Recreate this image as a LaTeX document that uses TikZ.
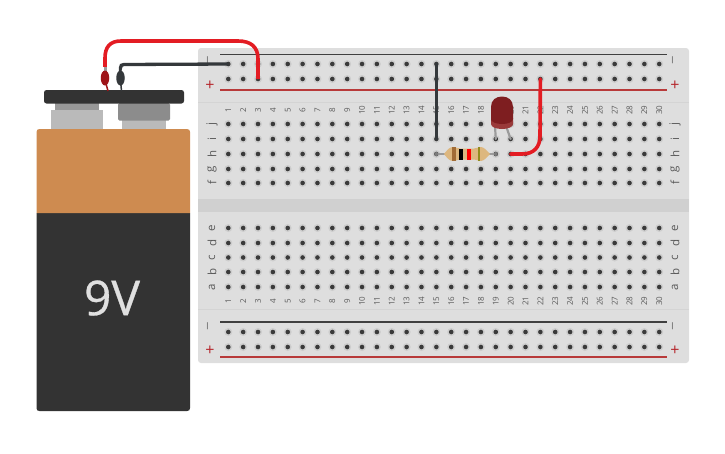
\documentclass[tikz,border=0pt]{standalone}
\usepackage{fontspec}
\setmainfont{Open Sans}
\usetikzlibrary{shapes.geometric}
\definecolor{board}{HTML}{DEDEDE}
\definecolor{groove}{HTML}{D0D0D0}
\definecolor{sepline}{HTML}{D4D4D4}
\definecolor{halo}{HTML}{CDCDCD}
\definecolor{hole}{HTML}{3A3A3A}
\definecolor{wirered}{HTML}{E31C23}
\definecolor{wireblack}{HTML}{34383B}
\definecolor{railred}{HTML}{B83A3A}
\definecolor{plusred}{HTML}{B5252B}
\definecolor{batdark}{HTML}{333333}
\definecolor{batorange}{HTML}{CE8B50}
\definecolor{ledred}{HTML}{7E1E20}
\definecolor{ledrim}{HTML}{9A3A3A}
\definecolor{lead}{HTML}{9B9B9B}
\definecolor{rbody}{HTML}{DDB77F}
\tikzset{
  haloc/.style={fill=halo,draw=none},
  holec/.style={fill=hole,draw=none},
  numlab/.style={rotate=90,font=\fontsize{8}{8}\selectfont,text=black!65,inner sep=0pt},
  letlab/.style={rotate=90,font=\fontsize{11.5}{11.5}\selectfont,text=black!65,inner sep=0pt},
  minuslab/.style={rotate=90,font=\fontsize{15}{15}\selectfont,text=black!50,inner sep=0pt},
  pluslab/.style={font=\fontsize{16}{16}\selectfont,text=plusred,inner sep=0pt},
  redwire/.style={draw=wirered,line width=3.6pt,line cap=round},
  blackwire/.style={draw=wireblack,line width=3.3pt,line cap=round},
  clipred/.style={ellipse,fill=wirered!70!black,minimum width=8.5pt,minimum height=15pt,inner sep=0pt},
  clipblack/.style={ellipse,fill=wireblack,minimum width=8.5pt,minimum height=15pt,inner sep=0pt},
  cliptip/.style={fill=lead,minimum width=3pt,minimum height=4pt,inner sep=0pt},
  leadline/.style={draw=lead,line width=2.2pt,line cap=round},
}
\begin{document}
\begin{tikzpicture}[x=1pt,y=-1pt]
\useasboundingbox (0,0) rectangle (725,453);
% breadboard
\fill[board,rounded corners=3pt] (198,48) rectangle (689,363);
\fill[groove] (198,199) rectangle (689,212);
\draw[sepline,line width=1pt] (198,102.5) -- (689,102.5);
\draw[sepline,line width=1pt] (198,309.5) -- (689,309.5);
\draw[black!75,line width=1.1pt] (220,54.5) -- (667,54.5);
\draw[railred,line width=1.3pt] (220,90) -- (667,90);
\draw[black!75,line width=1.1pt] (220,322) -- (667,322);
\draw[railred,line width=1.3pt] (220,357) -- (667,357);
% holes
\foreach \c in {1,...,30}{
  \pgfmathsetmacro{\xx}{228.3+14.86*(\c-1)}
  \foreach \r/\yy in {ra/64,rb/79,j/124,i/139,h/154,g/169,f/183,e/228,d/243,c/257.5,b/272,a/287,rc/332,rd/347}{
    \coordinate (h-\c-\r) at (\xx,\yy);
    \fill[haloc] (\xx,\yy) circle (4pt);
    \fill[holec] (\xx,\yy) circle (2.3pt);
  }
  \node[numlab] (nt\c) at (\xx,110) {\c};
  \node[numlab] (nb\c) at (\xx,301) {\c};
}
% letters
\foreach \l/\yy in {j/124,i/139,h/154,g/169,f/183,e/228,d/243,c/257.5,b/272,a/287}{
  \node[letlab] (ll\l) at (212,\yy) {\l};
  \node[letlab] (lr\l) at (675,\yy) {\l};
}
\node[minuslab] (m1) at (210,60) {−};
\node[minuslab] (m2) at (675,60) {−};
\node[minuslab] (m3) at (210,326) {−};
\node[minuslab] (m4) at (675,326) {−};
\node[pluslab] (p1) at (210,85.5) {+};
\node[pluslab] (p2) at (675,85.5) {+};
\node[pluslab] (p3) at (210,351) {+};
\node[pluslab] (p4) at (675,351) {+};
% battery
\fill[black!40] (55,103) rectangle (99,110);
\fill[black!27] (51,110) rectangle (103,129);
\fill[black!27] (122,120) rectangle (166,129);
\fill[black!45,rounded corners=1.5pt] (118,103) rectangle (170,120.5);
\fill[batdark] (36.5,213) -- (36.5,408) .. controls (36.5,410) and (37.5,411) .. (39.5,411) -- (187,411) .. controls (189,411) and (190,410) .. (190,408) -- (190,213) -- cycle;
\fill[batorange] (36.5,213) -- (36.5,132) .. controls (36.5,130) and (37.5,129) .. (39.5,129) -- (187,129) .. controls (189,129) and (190,130) .. (190,132) -- (190,213) -- cycle;
\fill[batdark,rounded corners=2.5pt] (44,90) rectangle (184,103.5);
\node[font=\fontsize{48}{48}\selectfont\addfontfeature{FakeBold=0.6},text=black!12,inner sep=0pt] (volt) at (112,298) {9V};
% battery clips
\coordinate (capr) at (108,91);
\coordinate (capb) at (121.5,91);
\node[cliptip] (tipr) at (105,69) {};
\node[cliptip] (tipb) at (120.5,69) {};
\draw[draw=wirered!70!black,line width=1.5pt] (capr) -- (105,80);
\draw[draw=wireblack,line width=1.5pt] (capb) -- (120.5,80);
\node[clipred] (clipr) at (105,78) {};
\node[clipblack] (clipb) at (120.5,78) {};
% wires
\draw[redwire,line cap=butt] (tipr.north) -- (105,58) .. controls (105,47) and (110,41) .. (121,41) -- (238,41) .. controls (251,41) and (258,47) .. (258,59) -- (h-3-rb);
\draw[blackwire,line cap=butt] (tipb.north) -- (120.5,68) .. controls (120.5,65.5) and (121.5,64.5) .. (124,64.5) -- (h-1-ra);
\draw[blackwire] (h-15-ra) -- (h-15-i);
% resistor
\draw[leadline] (h-15-h) -- (445,154);
\draw[leadline] (h-19-h) -- (488,154);
\fill[lead!80!black] (h-15-h) circle (2pt);
\fill[lead!80!black] (h-19-h) circle (2pt);
\fill[rbody] (444,154) .. controls (447,150.5) and (449,147) .. (453,147) .. controls (456,147) and (457,148.5) .. (460,148.5) -- (474,148.5) .. controls (477,148.5) and (478,147) .. (481,147) .. controls (484,147) and (487,151) .. (490,154) .. controls (487,157) and (484,161) .. (481,161) .. controls (478,161) and (477,159.5) .. (474,159.5) -- (460,159.5) .. controls (457,159.5) and (456,161) .. (453,161) .. controls (449,161) and (447,157.5) .. (444,154) -- cycle;
\fill[brown!85!black] (452,147.2) rectangle (456,160.8);
\fill[black] (459,148.5) rectangle (463,159.5);
\fill[red] (467,148.5) rectangle (470.5,159.5);
\fill[olive!70!yellow!80!black] (478,147) rectangle (479.5,161);
% led
\draw[leadline] (495,126) -- (h-19-i);
\draw[leadline] (506,126) -- (h-20-i);
\fill[ledrim] (491,118) -- (513,118) -- (513,124) .. controls (513,127) and (508,129) .. (502,129) .. controls (496,129) and (491,127) .. (491,124) -- cycle;
\fill[ledred] (491,122) -- (491,107) .. controls (491,100) and (496,96.5) .. (502,96.5) .. controls (508,96.5) and (513,100) .. (513,107) -- (513,119) .. controls (513,122) and (508,124) .. (502,124) .. controls (496,124) and (491,122) .. (491,119) -- cycle;
% red jumper
\draw[redwire] (h-20-h) -- (522,154) .. controls (534,154) and (540,147) .. (540,136) -- (h-22-rb);
\end{tikzpicture}
\end{document}
